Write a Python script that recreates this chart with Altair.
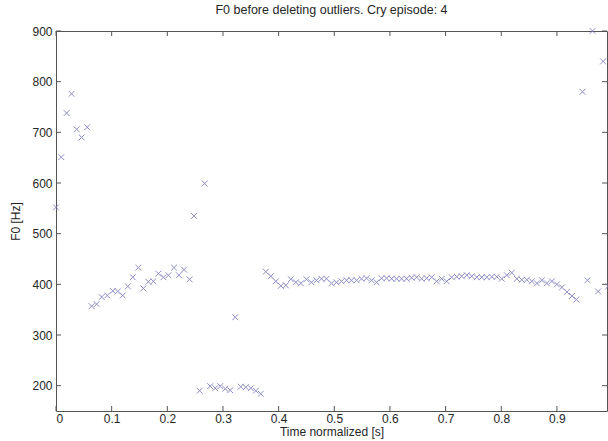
import altair as alt
import pandas as pd

# Normalized time [s] of each analysis frame
time_s = [
    0.000, 0.0095, 0.019, 0.028, 0.037, 0.046, 0.056,
    0.064, 0.073, 0.082, 0.092, 0.102, 0.111, 0.120, 0.129, 0.138, 0.148,
    0.157, 0.166, 0.175, 0.184, 0.193, 0.202, 0.212, 0.221, 0.230, 0.240,
    0.248, 0.258, 0.267, 0.277, 0.286, 0.295, 0.304, 0.313, 0.322, 0.332,
    0.341, 0.350, 0.359, 0.368,
    0.377, 0.386, 0.395, 0.404, 0.413, 0.422, 0.431, 0.440, 0.450, 0.459,
    0.468, 0.477, 0.486, 0.495, 0.504, 0.513, 0.522, 0.531, 0.540, 0.549,
    0.558, 0.567, 0.576, 0.585, 0.594, 0.603, 0.612, 0.621, 0.630, 0.639,
    0.648, 0.657, 0.666, 0.675, 0.684, 0.693, 0.702, 0.711, 0.720, 0.729,
    0.738, 0.747, 0.756, 0.765, 0.774, 0.783, 0.792, 0.801, 0.810, 0.819,
    0.828, 0.837, 0.846, 0.855, 0.864, 0.873, 0.882, 0.891, 0.900, 0.909,
    0.918, 0.927, 0.935,
    0.946, 0.955, 0.964, 0.974, 0.983, 0.992,
]

# Estimated fundamental frequency [Hz] per frame (outliers still included)
f0_hz = [
    552, 651, 738, 776, 706, 690, 710,
    357, 361, 375, 378, 387, 386, 378, 396, 414, 433,
    392, 405, 406, 421, 414, 418, 433, 418, 429, 410,
    535, 190, 599, 199, 195, 199, 194, 191, 335, 198,
    197, 195, 190, 184,
    425, 416, 406, 397, 398, 410, 404, 402, 410, 404,
    408, 411, 411, 402, 404, 406, 408, 408, 408, 411,
    412, 408, 404, 412, 412, 411, 411, 411, 411, 413,
    414, 411, 412, 414, 406, 411, 406, 414, 415, 416,
    418, 416, 414, 414, 414, 415, 415, 411, 418, 423,
    411, 409, 409, 406, 402, 408, 402, 406, 400, 394,
    385, 377, 370,
    780, 408, 900, 386, 840, 396,
]

x_ticks = [0.0, 0.1, 0.2, 0.3, 0.4, 0.5, 0.6, 0.7, 0.8, 0.9]
y_ticks = [200, 300, 400, 500, 600, 700, 800, 900]

W, H = 551, 380
FONT = "Liberation Sans"
AXIS_COLOR = "#555555"
TEXT_COLOR = "#262626"

df = pd.DataFrame({"t": time_s, "f0": f0_hz})
xt = pd.DataFrame({"t": x_ticks})
yt = pd.DataFrame({"f0": y_ticks})

x_scale = alt.Scale(domain=[0, 0.99], nice=False, zero=False)
y_scale = alt.Scale(domain=[150, 900], nice=False, zero=False)

x_axis = alt.Axis(
    values=x_ticks, format="~g", ticks=False, domain=False, grid=False,
    labelFont=FONT, labelFontSize=12, labelColor=TEXT_COLOR, labelPadding=2,
    title="Time normalized [s]", titleFont=FONT, titleFontSize=12,
    titleFontWeight="normal", titleColor=TEXT_COLOR, titlePadding=2,
)
y_axis = alt.Axis(
    values=y_ticks, ticks=False, domain=False, grid=False,
    labelFont=FONT, labelFontSize=12, labelColor=TEXT_COLOR, labelPadding=4,
    title="F0 [Hz]", titleFont=FONT, titleFontSize=12,
    titleFontWeight="normal", titleColor=TEXT_COLOR, titlePadding=9,
)

# 'x' marker as an open cross
x_marker = "M-1,-1L1,1M-1,1L1,-1"

points = alt.Chart(df).mark_point(
    shape=x_marker, filled=False, size=34, strokeWidth=1,
    color="#7b7bbd", opacity=0.85,
).encode(
    x=alt.X("t:Q", scale=x_scale, axis=x_axis),
    y=alt.Y("f0:Q", scale=y_scale, axis=y_axis),
)

# Inward-pointing ticks on all four sides of the box
tick_len = 5
x_ticks_bottom = alt.Chart(xt).mark_rule(color=AXIS_COLOR).encode(
    x=alt.X("t:Q", scale=x_scale), y=alt.value(H), y2=alt.value(H - tick_len)
)
x_ticks_top = alt.Chart(xt).mark_rule(color=AXIS_COLOR).encode(
    x=alt.X("t:Q", scale=x_scale), y=alt.value(0), y2=alt.value(tick_len)
)
y_ticks_left = alt.Chart(yt).mark_rule(color=AXIS_COLOR).encode(
    y=alt.Y("f0:Q", scale=y_scale), x=alt.value(0), x2=alt.value(tick_len)
)
y_ticks_right = alt.Chart(yt).mark_rule(color=AXIS_COLOR).encode(
    y=alt.Y("f0:Q", scale=y_scale), x=alt.value(W), x2=alt.value(W - tick_len)
)

chart = alt.layer(
    x_ticks_bottom, x_ticks_top, y_ticks_left, y_ticks_right, points
).properties(
    width=W,
    height=H,
    title=alt.TitleParams(
        "F0 before deleting outliers. Cry episode: 4",
        font=FONT, fontSize=12.5, fontWeight="normal", color=TEXT_COLOR,
        anchor="middle", offset=9,
    ),
    autosize=alt.AutoSizeParams(type="none"),
    padding={"left": 56, "top": 31, "right": 1, "bottom": 30},
    background="white",
).configure_view(
    stroke=AXIS_COLOR, strokeWidth=1
)

chart.save("out.html", embed_options={"renderer": "svg", "actions": False})
